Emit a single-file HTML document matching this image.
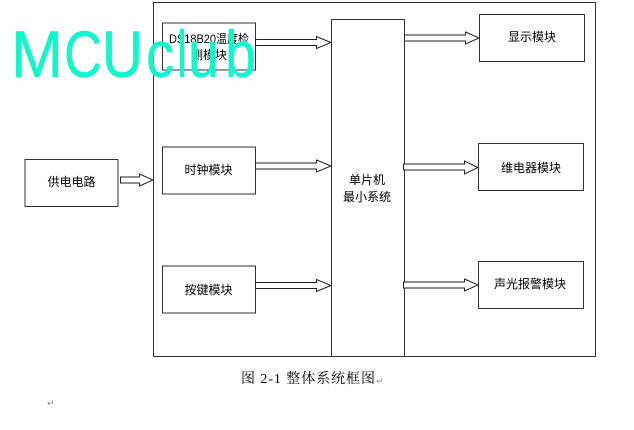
<!DOCTYPE html>
<html><head><meta charset="utf-8"><style>
html,body{margin:0;padding:0;background:#fff;width:634px;height:430px;overflow:hidden}
svg{display:block}
.t{font-family:"Liberation Sans","WenQuanYi Zen Hei","Noto Sans CJK SC",sans-serif;font-size:12px;fill:#000;text-anchor:middle}
.w{font-family:"Liberation Sans","DejaVu Sans",sans-serif;font-size:66px;fill:#0ef8cc;stroke:#0ef8cc;stroke-width:0.4;stroke-linejoin:round}
</style></head><body>
<svg width="634" height="430" viewBox="0 0 634 430" xmlns="http://www.w3.org/2000/svg">
<g fill="#fff" stroke="#333" stroke-width="1">
<rect x="153.5" y="2.5" width="442" height="354"/>
<rect x="331.5" y="19.5" width="73" height="337"/>
<rect x="162.5" y="23" width="93" height="47"/>
<rect x="162.5" y="147" width="93" height="47"/>
<rect x="162.5" y="266" width="93" height="47"/>
<rect x="25" y="159.5" width="93" height="47"/>
<rect x="479.5" y="14.5" width="105" height="47"/>
<rect x="478.5" y="143.5" width="105" height="47"/>
<rect x="478.5" y="261.5" width="105" height="47"/>
</g>
<g fill="#fff" stroke="#222" stroke-width="1">
<path d="M255.5 39.5H316.5V36.5L331 42.5L316.5 48.5V45.5H255.5Z"/>
<path d="M255.5 163H316.5V160L331 166L316.5 172V169H255.5Z"/>
<path d="M255.5 282.5H316.5V279.5L331 285.5L316.5 291.5V288.5H255.5Z"/>
<path d="M120.5 177H139.5V174L153 180L139.5 186V183H120.5Z"/>
<path d="M404.5 35H465.5V32L479 38L465.5 44V41H404.5Z"/>
<path d="M403.5 164H464.5V161L478 167.5L464.5 174V170H403.5Z"/>
<path d="M403.5 282H464.5V279L478 285L464.5 291V288H403.5Z"/>
</g>
<text class="t" x="209" y="43" textLength="80" lengthAdjust="spacingAndGlyphs">DS18B20温度检</text>
<text class="t" x="209" y="59">测模块</text>
<text class="t" x="208.5" y="174">时钟模块</text>
<text class="t" x="208.5" y="294">按键模块</text>
<text class="t" x="71.5" y="186">供电电路</text>
<text class="t" x="532" y="41">显示模块</text>
<text class="t" x="531" y="172">维电器模块</text>
<text class="t" x="530" y="288">声光报警模块</text>
<text class="t" x="367" y="184">单片机</text>
<text class="t" x="367" y="201">最小系统</text>
<text x="241" y="383" font-family="'Liberation Serif','WenQuanYi Zen Hei','Noto Serif CJK SC',serif" font-size="14" textLength="134">图 2-1 整体系统框图</text>
<text x="376" y="384" font-family="'DejaVu Sans',sans-serif" font-size="9" fill="#888">↵</text>
<text x="47" y="406" font-family="'DejaVu Sans',sans-serif" font-size="9" fill="#888">↵</text>
<g class="w">
<text x="11" y="77" textLength="52" lengthAdjust="spacingAndGlyphs">M</text>
<text x="64" y="77" textLength="38" lengthAdjust="spacingAndGlyphs">C</text>
<text x="102" y="77" textLength="41" lengthAdjust="spacingAndGlyphs">U</text>
<text x="146" y="77" textLength="28" lengthAdjust="spacingAndGlyphs">c</text>
<text x="177" y="77" textLength="10" lengthAdjust="spacingAndGlyphs">l</text>
<text x="188" y="77" textLength="31" lengthAdjust="spacingAndGlyphs">u</text>
<text x="225" y="77" textLength="31" lengthAdjust="spacingAndGlyphs">b</text>
</g>
</svg>
</body></html>
